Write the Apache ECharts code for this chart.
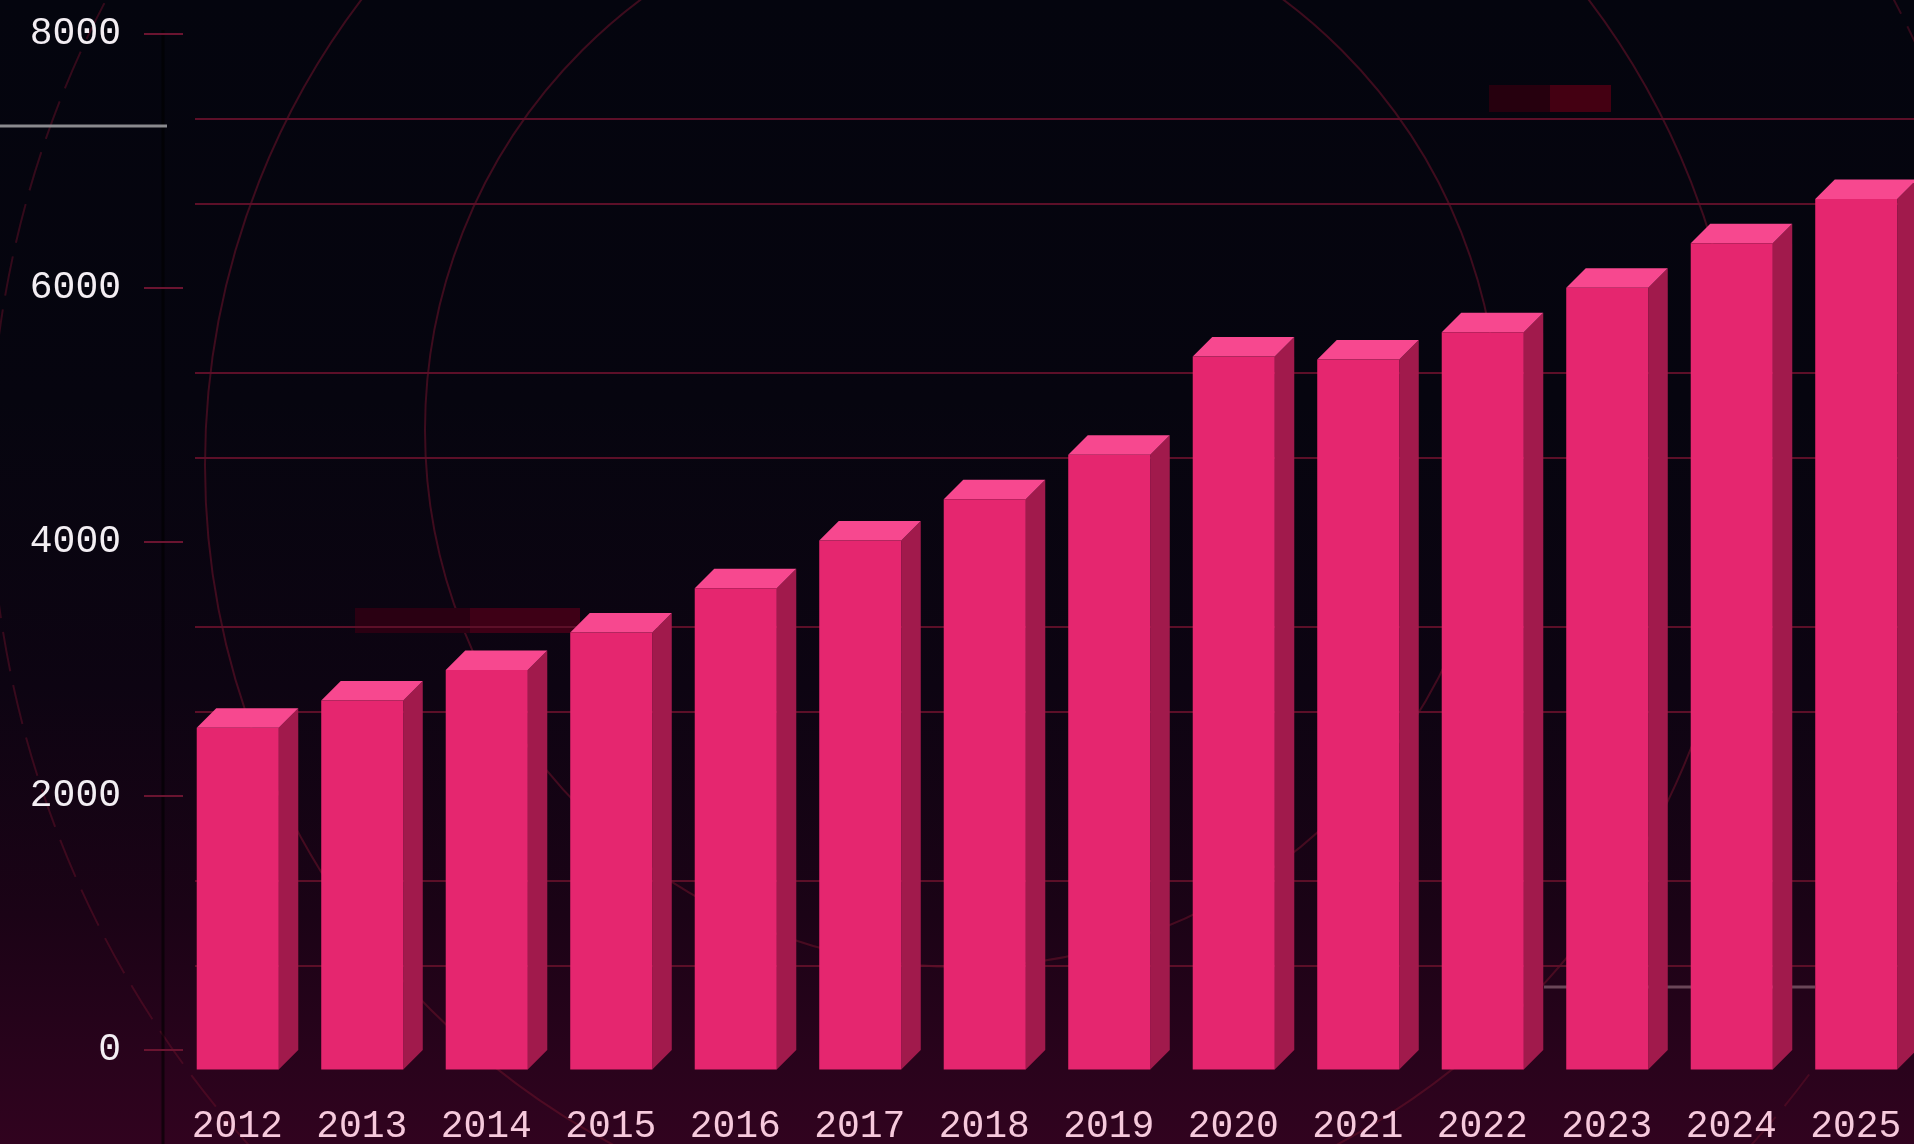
<!DOCTYPE html>
<html>
<head>
<meta charset="utf-8">
<style>
  html, body { margin: 0; padding: 0; background: #04050e; }
  #chart { width: 1914px; height: 1144px; }
</style>
<script src="https://cdn.jsdelivr.net/npm/echarts@6/dist/echarts.min.js"></script>
</head>
<body>
<div id="chart"></div>
<script>
// ---- data ----
const categories = ['2012', '2013', '2014', '2015', '2016', '2017', '2018', '2019', '2020', '2021', '2022', '2023', '2024', '2025'];
const values = [2690, 2905, 3145, 3440, 3790, 4165, 4490, 4840, 5615, 5590, 5805, 6155, 6505, 6855];
const yTicks = [0, 2000, 4000, 6000, 8000];

// ---- styles ----
const FRONT = '#e5266f';
const TOP = '#f7488f';
const SIDE = '#a11a4c';
const DEPTH = 19.5;
const GRID_LINE = '#5c0f28';
const FONT = '"Liberation Mono", "Courier New", monospace';

const chart = echarts.init(document.getElementById('chart'));

function renderBar(params, api) {
  const cat = api.value(0);
  const val = api.value(1);
  const top = api.coord([cat, val]);
  const base = api.coord([cat, 0]);
  const w = api.size([1, 0])[0] * 0.659;
  const cx = top[0];
  const bx0 = cx - w / 2, bx1 = cx + w / 2;
  const d = DEPTH;
  const fx0 = bx0 - d, fx1 = bx1 - d;
  const ty = top[1], by = base[1];
  return {
    type: 'group',
    children: [
      { type: 'polygon', shape: { points: [[fx1, ty + d], [bx1, ty], [bx1, by], [fx1, by + d]] }, style: { fill: SIDE } },
      { type: 'polygon', shape: { points: [[fx0, ty + d], [bx0, ty], [bx1, ty], [fx1, ty + d]] }, style: { fill: TOP } },
      { type: 'rect', shape: { x: fx0, y: ty + d, width: w, height: by - ty }, style: { fill: FRONT } }
    ]
  };
}

const decoLine = 'rgba(100,16,40,0.6)';
const option = {
  animation: false,
  graphic: [
    { type: 'rect', z: -100, silent: true, shape: { x: 0, y: 0, width: 1914, height: 1144 },
      style: { fill: new echarts.graphic.LinearGradient(0, 0, 0, 1, [
        { offset: 0, color: '#04050e' },
        { offset: 0.35, color: '#06050f' },
        { offset: 0.6, color: '#0d0412' },
        { offset: 0.8, color: '#1b0316' },
        { offset: 1, color: '#31031f' }
      ]) } },
    { type: 'circle', z: -90, silent: true, shape: { cx: 975, cy: 465, r: 770 }, style: { fill: null, stroke: decoLine, lineWidth: 2 } },
    { type: 'circle', z: -90, silent: true, shape: { cx: 962, cy: 430, r: 537 }, style: { fill: null, stroke: decoLine, lineWidth: 2 } },
    { type: 'circle', z: -90, silent: true, shape: { cx: 1000, cy: 470, r: 1010 }, style: { fill: null, stroke: 'rgba(100,16,40,0.5)', lineWidth: 2, lineDash: [40, 14] } },
    { type: 'line', z: -80, silent: true, shape: { x1: 163, y1: 30, x2: 163, y2: 1144 }, style: { stroke: 'rgba(0,0,0,0.6)', lineWidth: 3 } },
    { type: 'line', z: -80, silent: true, shape: { x1: 0, y1: 126, x2: 167, y2: 126 }, style: { stroke: '#8a8a8e', lineWidth: 3 } },
    { type: 'line', z: -80, silent: true, shape: { x1: 1544, y1: 987, x2: 1815, y2: 987 }, style: { stroke: '#6a4658', lineWidth: 3 } },
    { type: 'rect', z: -80, silent: true, shape: { x: 1489, y: 85, width: 61, height: 27 }, style: { fill: '#26000e' } },
    { type: 'rect', z: -80, silent: true, shape: { x: 1550, y: 85, width: 61, height: 27 }, style: { fill: '#440012' } },
    { type: 'rect', z: -80, silent: true, shape: { x: 355, y: 608, width: 115, height: 25 }, style: { fill: '#2a0012' } },
    { type: 'rect', z: -80, silent: true, shape: { x: 470, y: 608, width: 110, height: 25 }, style: { fill: '#3e0016' } }
  ],
  grid: { left: 195, top: 34, width: 1743, height: 1016, containLabel: false, outerBoundsMode: 'none' },
  xAxis: {
    type: 'category',
    data: categories,
    axisLine: { show: false },
    axisTick: { show: false },
    splitLine: { show: false },
    axisLabel: {
      color: '#f6c9dc',
      fontFamily: FONT,
      fontSize: 38,
      margin: 58,
      padding: [0, 40, 0, 0],
      interval: 0
    }
  },
  yAxis: {
    type: 'value',
    min: 0,
    max: 8000,
    interval: 2000,
    offset: 12,
    axisLine: { show: false },
    axisTick: { show: true, length: 39, lineStyle: { color: '#6a1430', width: 2 } },
    axisLabel: {
      color: '#f3eef3',
      fontFamily: FONT,
      fontSize: 38,
      margin: 62,
      formatter: function (v) { return yTicks.indexOf(v) >= 0 ? String(v) : ''; }
    },
    splitLine: { show: false },
    minorTick: { show: false, splitNumber: 3 },
    minorSplitLine: { show: true, lineStyle: { color: GRID_LINE, width: 2 } }
  },
  series: [{
    type: 'custom',
    renderItem: renderBar,
    data: values.map(function (v, i) { return [i, v]; }),
    encode: { x: 0, y: 1 },
    clip: false,
    z: 5
  }]
};
chart.setOption(option);
</script>
</body>
</html>
